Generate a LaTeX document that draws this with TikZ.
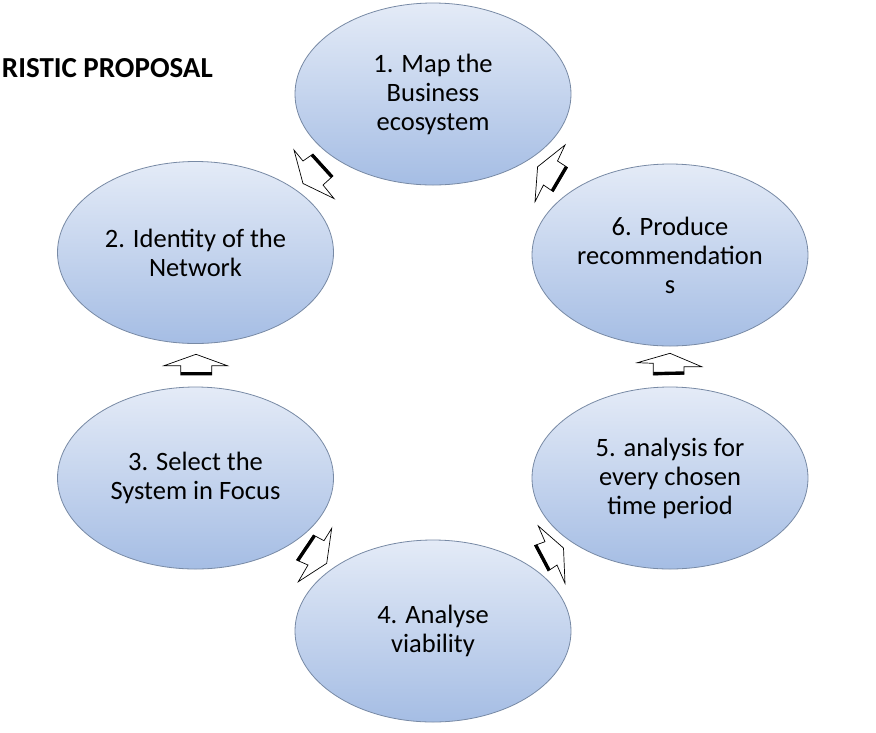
\documentclass[tikz,border=0pt]{standalone}
\usepackage{fontspec}
\setmainfont{Carlito}
\usetikzlibrary{shapes.geometric,calc}
\definecolor{elltop}{RGB}{228,235,247}
\definecolor{ellbot}{RGB}{165,189,228}
\definecolor{ellborder}{RGB}{120,138,165}
\begin{document}
\begin{tikzpicture}[x=1pt,y=-1pt,
  stage/.style={ellipse, draw=ellborder, line width=0.8pt, top color=elltop, bottom color=ellbot,
    minimum width=276pt, minimum height=182pt, inner sep=0pt, align=center,
    font=\fontsize{26.5}{29}\selectfont, text=black},
  blk/.style={draw=black, fill=white, line width=0.7pt, line join=miter},
  depth/.style={line width=3.2pt, black, line cap=butt}]
\useasboundingbox (0,0) rectangle (876,732);
\fill[white] (0,0) rectangle (876,732);

\node[font=\fontsize{29}{32}\selectfont\bfseries, anchor=base east, inner sep=0pt] (title) at (213,77) {RISTIC PROPOSAL};

\node[stage] (s1) at (433,94) {1. Map the\\Business\\ecosystem};
\node[stage] (s2) at (195.5,252.5) {2. Identity of the\\Network};
\node[stage] (s3) at (195.5,478) {3. Select the\\System in Focus};
\node[stage] (s4) at (433,631) {4. Analyse\\viability};
\node[stage] (s5) at (670,478) {5. analysis for\\every chosen\\time period};
\node[stage] (s6) at (670,255) {6. Produce\\recommendation\\s};

% Arrow A (between 1 and 2)
\coordinate (aT) at (303,183.5); \coordinate (aW1) at (294,150); \coordinate (aS1) at (303,161);
\coordinate (aL1) at (313,154); \coordinate (aL2) at (333,176); \coordinate (aS2) at (323,185);
\coordinate (aW2) at (334,198.5);
\draw[blk] (aT) -- (aW1) -- (aS1) -- (aL1) -- (aL2) -- (aS2) -- (aW2) -- cycle;
\draw[depth] ($(aL1)!1.4pt!(aS1)$) -- ($(aL2)!1.4pt!(aS2)$);

% Arrow B (between 3 and 2)
\coordinate (bT) at (196,354.3); \coordinate (bW1) at (227.3,365.7); \coordinate (bS1) at (211.7,365.7);
\coordinate (bL1) at (211.7,375); \coordinate (bL2) at (180.7,375); \coordinate (bS2) at (180.7,365.7);
\coordinate (bW2) at (164,365.7);
\draw[blk] (bT) -- (bW1) -- (bS1) -- (bL1) -- (bL2) -- (bS2) -- (bW2) -- cycle;
\draw[depth] ($(bL1)!1.4pt!(bS1)$) -- ($(bL2)!1.4pt!(bS2)$);

% Arrow C (between 3 and 4)
\coordinate (cT) at (326.7,563.3); \coordinate (cW1) at (331.7,528.3); \coordinate (cS1) at (324,540.7);
\coordinate (cL1) at (313.3,535); \coordinate (cL2) at (296.5,560); \coordinate (cS2) at (308,565);
\coordinate (cW2) at (298.3,581.7);
\draw[blk] (cT) -- (cW1) -- (cS1) -- (cL1) -- (cL2) -- (cS2) -- (cW2) -- cycle;
\draw[depth] ($(cL1)!1.4pt!(cS1)$) -- ($(cL2)!1.4pt!(cS2)$);

% Arrow D (between 4 and 5)
\coordinate (dT) at (563.5,548); \coordinate (dW1) at (538.3,526); \coordinate (dS1) at (545,541.7);
\coordinate (dL1) at (534.5,545.5); \coordinate (dL2) at (548,571); \coordinate (dS2) at (557,565);
\coordinate (dW2) at (565,583.3);
\draw[blk] (dT) -- (dW1) -- (dS1) -- (dL1) -- (dL2) -- (dS2) -- (dW2) -- cycle;
\draw[depth] ($(dL1)!1.4pt!(dS1)$) -- ($(dL2)!1.4pt!(dS2)$);

% Arrow E (between 5 and 6)
\coordinate (eT) at (670,353.3); \coordinate (eW1) at (637.3,362.7); \coordinate (eS1) at (653.3,363.3);
\coordinate (eL1) at (653.3,375); \coordinate (eL2) at (684,374.3); \coordinate (eS2) at (684,366.7);
\coordinate (eW2) at (701.7,366.7);
\draw[blk] (eT) -- (eW1) -- (eS1) -- (eL1) -- (eL2) -- (eS2) -- (eW2) -- cycle;
\draw[depth] ($(eL1)!1.4pt!(eS1)$) -- ($(eL2)!1.4pt!(eS2)$);

% Arrow F (between 6 and 1)
\coordinate (fT) at (537.6,166.8); \coordinate (fW1) at (565,145); \coordinate (fS1) at (557.5,161);
\coordinate (fL1) at (567.5,167.5); \coordinate (fL2) at (553.3,191.7); \coordinate (fS2) at (543.5,185);
\coordinate (fW2) at (535,201.7);
\draw[blk] (fT) -- (fW1) -- (fS1) -- (fL1) -- (fL2) -- (fS2) -- (fW2) -- cycle;
\draw[depth] ($(fL1)!1.4pt!(fS1)$) -- ($(fL2)!1.4pt!(fS2)$);
\end{tikzpicture}
\end{document}
